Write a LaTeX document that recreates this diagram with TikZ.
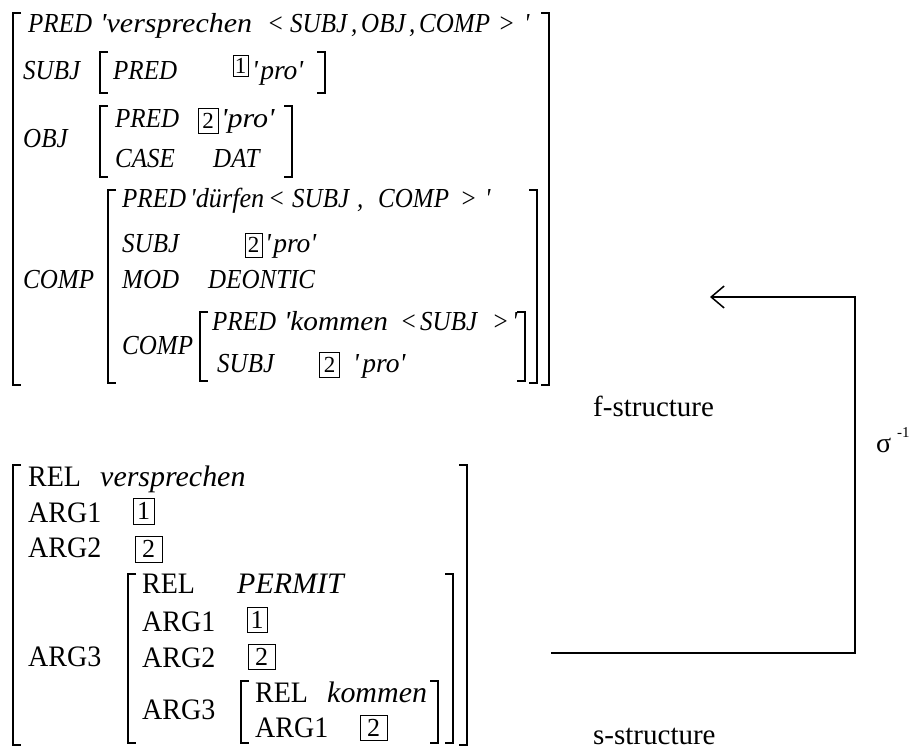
\documentclass[tikz,border=0pt]{standalone}
\usepackage{fontspec}
\setmainfont[Ligatures=TeXOff]{Liberation Serif}
\usetikzlibrary{arrows.meta}
\newcommand\Lbr[3]{\draw[brk] (#1+8,#2) -- (#1,#2) -- (#1,#3) -- (#1+8,#3);}
\newcommand\Rbr[3]{\draw[brk] (#1-8,#2) -- (#1,#2) -- (#1,#3) -- (#1-8,#3);}
\begin{document}
\begin{tikzpicture}[x=1pt,y=-1pt,
  ft/.style={font=\fontsize{25}{28}\selectfont\itshape, anchor=base west, inner sep=0pt, yscale=1.1},
  st/.style={font=\fontsize{28}{32}\selectfont, anchor=base west, inner sep=0pt, yscale=1.06},
  sti/.style={st, font=\fontsize{28}{32}\selectfont\itshape, xscale=1.07},
  fbox/.style={draw, line width=0.9pt, inner sep=0pt, font=\fontsize{23}{26}\selectfont},
  sbox/.style={draw, line width=0.9pt, inner sep=0pt, font=\fontsize{26}{28}\selectfont},
  brk/.style={line width=1.1pt},
  lbl/.style={font=\fontsize{29}{32}\selectfont, anchor=base west, inner sep=0pt},
  conn/.style={line width=1.5pt, -{Straight Barb[length=13pt,width=22pt,line width=1.5pt]}}
]
\useasboundingbox (0,0) rectangle (919,751);

% ---------------- f-structure ----------------
\Lbr{13}{13}{385}
\Rbr{549}{13}{385}
% row 1
\node[ft] (f1a) at (28,33) {PRED};
\node[ft, xscale=1.2] (f1b) at (100,33) {'versprechen};
\node[ft] (f1c) at (267,33) {<};
\node[ft] (f1d) at (290,33) {SUBJ};
\node[ft] (f1e) at (351,33) {,};
\node[ft] (f1f) at (361,33) {OBJ};
\node[ft] (f1g) at (409,33) {,};
\node[ft] (f1h) at (419,33) {COMP};
\node[ft] (f1i) at (498,33) {>};
\node[ft] (f1j) at (524,33) {'};
% SUBJ
\node[ft] (f2l) at (23,80) {SUBJ};
\Lbr{100}{52}{93}
\Rbr{325}{52}{93}
\node[ft] (f2a) at (113,80) {PRED};
\node[fbox, minimum width=15pt, minimum height=21pt] (f2b) at (240.5,65.5) {1};
\node[ft, xscale=1.1] (f2c) at (252,80) {'\hspace{2pt}pro'};
% OBJ
\node[ft] (f3l) at (23,148) {OBJ};
\Lbr{100}{106}{177}
\Rbr{292}{106}{177}
\node[ft] (f3a) at (115,128) {PRED};
\node[fbox, minimum width=20pt, minimum height=25pt] (f3b) at (208,120.5) {2};
\node[ft, xscale=1.2] (f3c) at (221,128) {'pro'};
\node[ft] (f4a) at (115,168) {CASE};
\node[ft] (f4b) at (213,168) {DAT};
% COMP
\node[ft] (f5l) at (23,289) {COMP};
\Lbr{108}{190}{383}
\Rbr{537}{190}{383}
\node[ft] (f5a) at (122,208) {PRED};
\node[ft, xscale=1.05] (f5b) at (190,208) {'dürfen};
\node[ft] (f5c) at (268,208) {<};
\node[ft] (f5d) at (292,208) {SUBJ};
\node[ft] (f5e) at (357,208) {,};
\node[ft] (f5f) at (378,208) {COMP};
\node[ft] (f5g) at (460,208) {>};
\node[ft] (f5h) at (485,208) {'};
\node[ft] (f6a) at (122,253) {SUBJ};
\node[fbox, minimum width=17pt, minimum height=24pt] (f6b) at (253.5,245) {2};
\node[ft, xscale=1.1] (f6c) at (265,253) {'\hspace{2pt}pro'};
\node[ft] (f7a) at (122,289) {MOD};
\node[ft] (f7b) at (208,289) {DEONTIC};
% inner COMP
\node[ft] (f8l) at (122,355) {COMP};
\Lbr{200}{312}{381}
\Rbr{525}{312}{381}
\node[ft] (f8a) at (212,331) {PRED};
\node[ft, xscale=1.17] (f8b) at (284,331) {'kommen};
\node[ft] (f8c) at (400,331) {<};
\node[ft] (f8d) at (420,331) {SUBJ};
\node[ft] (f8e) at (492,331) {>};
\node[ft] (f8f) at (512,331) {'};
\node[ft] (f9a) at (217,373) {SUBJ};
\node[fbox, minimum width=20pt, minimum height=25pt] (f9b) at (329.5,365) {2};
\node[ft, xscale=1.1] (f9c) at (353,373) {'\hspace{3pt}pro'};

% ---------------- s-structure ----------------
\Lbr{13}{465}{745}
\Rbr{467}{465}{745}
\node[st] (s1a) at (28,486) {REL};
\node[sti] (s1b) at (100,486) {versprechen};
\node[st] (s2a) at (28,522) {ARG1};
\node[sbox, minimum width=21pt, minimum height=26pt] (s2b) at (143.5,511) {1};
\node[st] (s3a) at (28,557) {ARG2};
\node[sbox, minimum width=27pt, minimum height=26pt] (s3b) at (148.5,549) {2};
\node[st] (s4l) at (28,666) {ARG3};
\Lbr{128}{574}{743}
\Rbr{453}{574}{743}
\node[st] (s4a) at (142,593) {REL};
\node[sti] (s4b) at (237,593) {PERMIT};
\node[st] (s5a) at (142,631) {ARG1};
\node[sbox, minimum width=20pt, minimum height=25pt] (s5b) at (257,619.5) {1};
\node[st] (s6a) at (142,667) {ARG2};
\node[sbox, minimum width=27pt, minimum height=25pt] (s6b) at (261.5,656.5) {2};
\node[st] (s7l) at (142,719) {ARG3};
\Lbr{241}{681}{743}
\Rbr{438}{681}{743}
\node[st] (s7a) at (255,702) {REL};
\node[sti] (s7b) at (327,702) {kommen};
\node[st] (s8a) at (255,737) {ARG1};
\node[sbox, minimum width=27pt, minimum height=25pt] (s8b) at (373.5,727.5) {2};

% ---------------- labels and mapping ----------------
\node[lbl] (flab) at (593,417) {f-structure};
\node[lbl] (slab) at (593,744) {s-structure};
\node[font=\fontsize{28}{30}\selectfont, anchor=base west, inner sep=0pt] (sig) at (876,453) {σ};
\node[font=\fontsize{15}{18}\selectfont, anchor=base west, inner sep=0pt] (sigsup) at (897,438) {-1};

\coordinate (sOut) at (551,653);
\coordinate (corner) at (855,475);
\coordinate (fIn) at (710,297);
\draw[conn] (sOut) -| (corner) |- (fIn);
\end{tikzpicture}
\end{document}
